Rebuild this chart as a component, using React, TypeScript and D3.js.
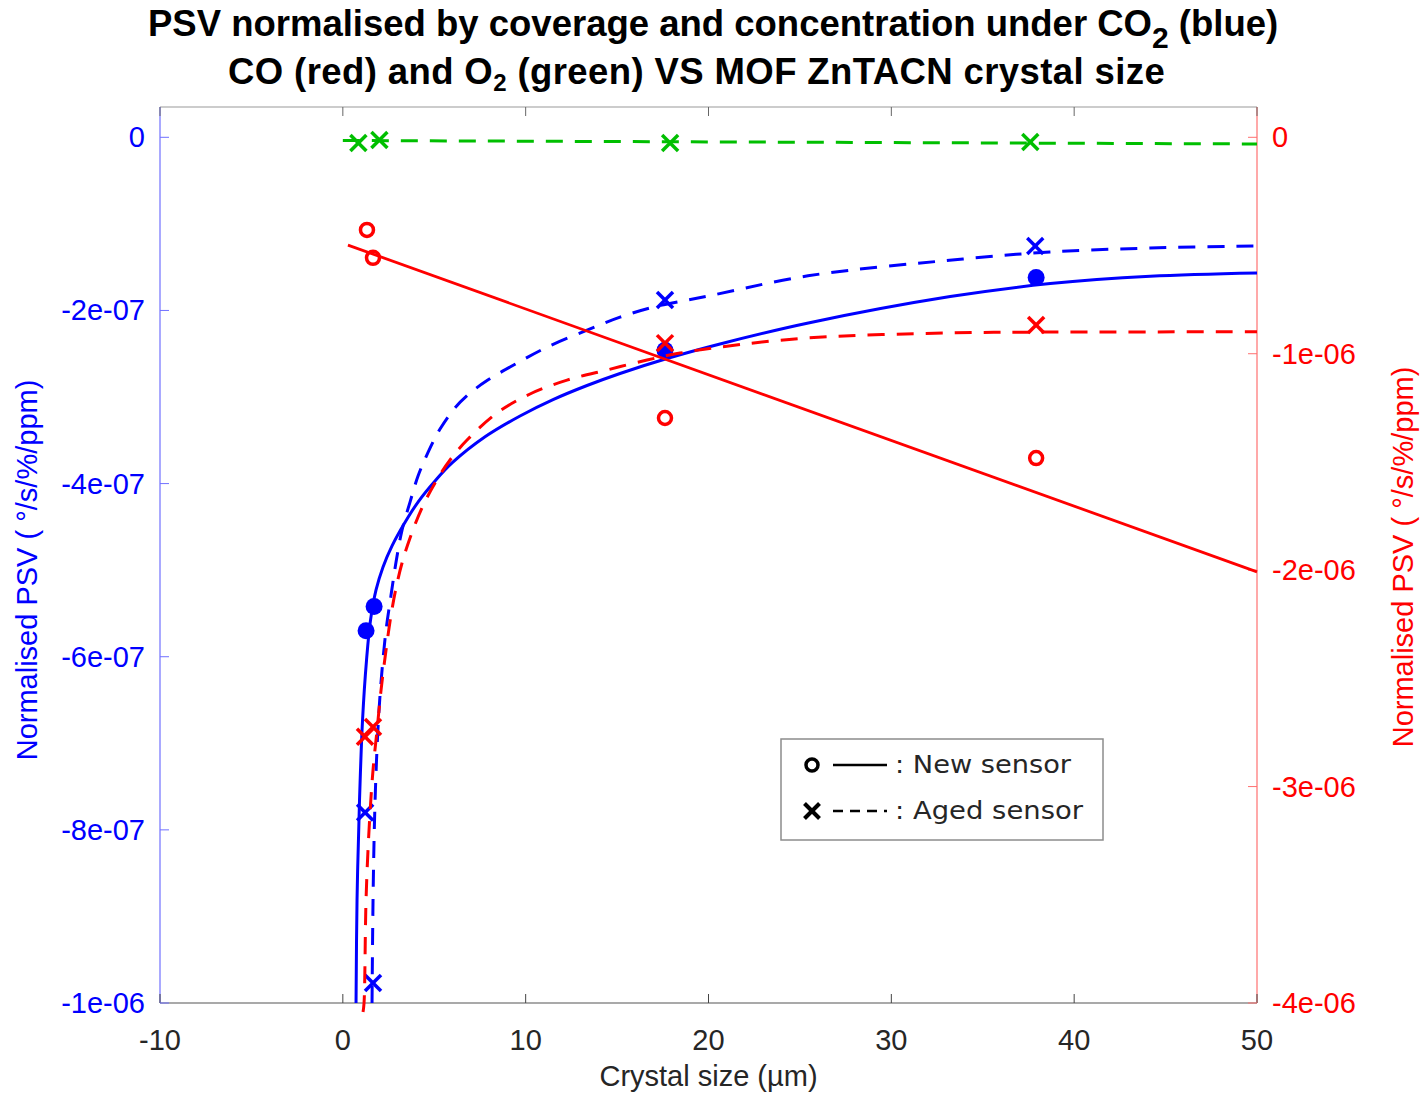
import React from "react";
import * as d3 from "d3";

// ---------- data ----------
const xTicks = [-10, 0, 10, 20, 30, 40, 50];
const xTickLabels = ["-10", "0", "10", "20", "30", "40", "50"];
const leftTicks = [0, -2e-7, -4e-7, -6e-7, -8e-7, -1e-6];
const leftTickLabels = ["0", "-2e-07", "-4e-07", "-6e-07", "-8e-07", "-1e-06"];
const rightTicks = [0, -1e-6, -2e-6, -3e-6, -4e-6];
const rightTickLabels = ["0", "-1e-06", "-2e-06", "-3e-06", "-4e-06"];

// CO2 (left axis)
const co2NewX = [1.27, 1.71, 17.62, 37.92];
const co2NewY = [-5.70e-7, -5.42e-7, -2.46e-7, -1.62e-7];
const co2AgedX = [1.22, 1.65, 17.62, 37.87];
const co2AgedY = [-7.80e-7, -9.77e-7, -1.88e-7, -1.255e-7];

const co2NewFitX = [0.722, 0.777, 0.913, 1.078, 1.296, 1.515, 1.816, 2.199, 2.691, 3.347, 4.113, 5.043, 5.973, 7.778, 9.692, 11.497, 13.356, 15.161, 17.732, 20.631, 25.46, 33.22, 38.69, 44.16, 50];
const co2NewFitY = [-10.0, -8.81, -7.655, -6.731, -6.038, -5.576, -5.229, -4.963, -4.72, -4.467, -4.213, -3.97, -3.762, -3.46, -3.219, -3.03, -2.867, -2.728, -2.555, -2.387, -2.145, -1.84, -1.69, -1.605, -1.567].map((v) => v * 1e-7);

const co2AgedFitX = [1.597, 1.652, 1.734, 1.843, 1.98, 2.144, 2.363, 2.637, 2.91, 3.238, 3.675, 4.113, 4.66, 5.316, 6.137, 6.957, 7.887, 9.528, 11.169, 13.356, 15.161, 16.966, 18.826, 20.248, 25.44, 33.92, 38.68, 44.15, 50];
const co2AgedFitY = [-10.0, -8.81, -7.886, -7.193, -6.616, -6.154, -5.692, -5.288, -4.907, -4.537, -4.214, -3.913, -3.64, -3.37, -3.125, -2.955, -2.81, -2.609, -2.424, -2.228, -2.078, -1.962, -1.881, -1.822, -1.6, -1.406, -1.325, -1.279, -1.256].map((v) => v * 1e-7);

// O2 (left axis)
const o2AgedX = [0.85, 2.0, 17.9, 37.6];
const o2AgedY = [-0.066e-7, -0.03e-7, -0.066e-7, -0.054e-7];
const o2AgedFitX = [0, 50];
const o2AgedFitY = [-0.037e-7, -0.077e-7];

// CO (right axis)
const coNewX = [1.32, 1.65, 17.62, 37.92];
const coNewY = [-0.428e-6, -0.557e-6, -1.297e-6, -1.482e-6];
const coAgedX = [1.21, 1.65, 17.62, 37.92];
const coAgedY = [-2.77e-6, -2.725e-6, -0.951e-6, -0.867e-6];

const coNewFitX = [0.28, 50];
const coNewFitY = [-0.498e-6, -2.008e-6];

const coAgedFitX = [1.105, 1.16, 1.269, 1.433, 1.652, 1.871, 2.09, 2.363, 2.637, 2.91, 3.238, 3.675, 4.331, 5.042, 5.863, 6.793, 8.434, 10.239, 12.262, 14.45, 16.638, 18.443, 20.631, 25.44, 33.22, 38.68, 50];
const coAgedFitY = [-4.042, -4.0, -3.524, -3.201, -2.923, -2.739, -2.554, -2.369, -2.207, -2.082, -1.967, -1.851, -1.712, -1.597, -1.491, -1.399, -1.274, -1.186, -1.122, -1.075, -1.029, -0.997, -0.969, -0.927, -0.904, -0.9, -0.899].map((v) => v * 1e-6);

// ---------- layout ----------
const W = 1422, H = 1094;
const L = 160, R = 1257, T = 107, B = 1003;
const BLUE = "#0000ff";
const RED = "#ff0000";
const GREEN = "#00bf00";
const TXT = "#262626";
const FONT = "'Liberation Sans', Arial, Helvetica, sans-serif";

const x = d3.scaleLinear().domain([-10, 50]).range([L, R]);
const yL = d3.scaleLinear().domain([-1e-6, 3.5e-8]).range([B, T]);
const yR = d3.scaleLinear().domain([-4e-6, 1.4e-7]).range([B, T]);

const zip = (xs: number[], ys: number[]) => xs.map((v, i) => [v, ys[i]] as [number, number]);

function linePath(xs: number[], ys: number[], ys2: d3.ScaleLinear<number, number>) {
  return d3
    .line<[number, number]>()
    .x((d) => x(d[0]))
    .y((d) => ys2(d[1]))
    .curve(d3.curveCatmullRom.alpha(0.5))(zip(xs, ys)) as string;
}

const Cross = ({ cx, cy, s, color, w }: { cx: number; cy: number; s: number; color: string; w: number }) => (
  <g stroke={color} strokeWidth={w} strokeLinecap="butt">
    <line x1={cx - s} y1={cy - s} x2={cx + s} y2={cy + s} />
    <line x1={cx - s} y1={cy + s} x2={cx + s} y2={cy - s} />
  </g>
);

export default function App() {
  const DASH = "17,12";
  return (
    <svg
      width={W}
      height={H}
      style={{ position: "absolute", left: 0, top: 0, background: "#fff" }}
      fontFamily={FONT}
    >
      <rect x={0} y={0} width={W} height={H} fill="#fff" />

      {/* Title */}
      <text x={148} y={36} fontSize={36.5} fontWeight="bold" fill="#000">
        PSV normalised by coverage and concentration under CO
        <tspan dy={12} fontSize={30}>2</tspan>
        <tspan dy={-12}> (blue)</tspan>
      </text>
      <text x={228} y={84} fontSize={36.5} fontWeight="bold" fill="#000" letterSpacing={0.4}>
        CO (red) and O
        <tspan dy={7} fontSize={24}>2</tspan>
        <tspan dy={-7}> (green) VS MOF ZnTACN crystal size</tspan>
      </text>

      {/* axes frame */}
      <line x1={L} y1={T} x2={R} y2={T} stroke="#999" strokeWidth={1.2} />
      <line x1={L} y1={B} x2={R} y2={B} stroke="#555" strokeWidth={1.2} />
      <line x1={L} y1={T} x2={L} y2={B} stroke="#7070ff" strokeWidth={1.2} />
      <line x1={R} y1={T} x2={R} y2={B} stroke="#ff7070" strokeWidth={1.2} />

      {/* x ticks */}
      {xTicks.map((t, i) => (
        <g key={"xt" + i}>
          <line x1={x(t)} y1={B} x2={x(t)} y2={B - 9} stroke="#444" strokeWidth={1} />
          <line x1={x(t)} y1={T} x2={x(t)} y2={T + 9} stroke="#666" strokeWidth={1} />
          <text x={x(t)} y={1050} fontSize={29} textAnchor="middle" fill={TXT}>
            {xTickLabels[i]}
          </text>
        </g>
      ))}
      <text x={(L + R) / 2} y={1086} fontSize={29} textAnchor="middle" fill={TXT}>
        Crystal size (µm)
      </text>

      {/* left ticks */}
      {leftTicks.map((t, i) => (
        <g key={"lt" + i}>
          <line x1={L} y1={yL(t)} x2={L + 9} y2={yL(t)} stroke="#7070ff" strokeWidth={1} />
          <text x={145} y={yL(t) + 10} fontSize={29} textAnchor="end" fill={BLUE}>
            {leftTickLabels[i]}
          </text>
        </g>
      ))}
      <text transform={`translate(37,570) rotate(-90)`} fontSize={29} textAnchor="middle" fill={BLUE}>
        Normalised PSV ( °/s/%/ppm)
      </text>

      {/* right ticks */}
      {rightTicks.map((t, i) => (
        <g key={"rt" + i}>
          <line x1={R} y1={yR(t)} x2={R - 9} y2={yR(t)} stroke="#ff7070" strokeWidth={1} />
          <text x={1272} y={yR(t) + 10} fontSize={29} textAnchor="start" fill={RED}>
            {rightTickLabels[i]}
          </text>
        </g>
      ))}
      <text transform={`translate(1413,557) rotate(-90)`} fontSize={29} textAnchor="middle" fill={RED}>
        Normalised PSV ( °/s/%/ppm)
      </text>

      {/* CO2 - blue */}
      <path d={linePath(co2NewFitX, co2NewFitY, yL)} fill="none" stroke={BLUE} strokeWidth={3} />
      <path d={linePath(co2AgedFitX, co2AgedFitY, yL)} fill="none" stroke={BLUE} strokeWidth={3} strokeDasharray={DASH} />
      {co2NewX.map((v, i) => (
        <circle key={"cn" + i} cx={x(v)} cy={yL(co2NewY[i])} r={8.5} fill={BLUE} />
      ))}
      {co2AgedX.map((v, i) => (
        <Cross key={"ca" + i} cx={x(v)} cy={yL(co2AgedY[i])} s={8} color={BLUE} w={3.5} />
      ))}

      {/* O2 - green */}
      <path d={linePath(o2AgedFitX, o2AgedFitY, yL)} fill="none" stroke={GREEN} strokeWidth={3} strokeDasharray={DASH} />
      {o2AgedX.map((v, i) => (
        <Cross key={"oa" + i} cx={x(v)} cy={yL(o2AgedY[i])} s={8} color={GREEN} w={3.5} />
      ))}

      {/* CO - red */}
      <path d={linePath(coNewFitX, coNewFitY, yR)} fill="none" stroke={RED} strokeWidth={2.8} />
      <path d={linePath(coAgedFitX, coAgedFitY, yR)} fill="none" stroke={RED} strokeWidth={3} strokeDasharray={DASH} />
      {coNewX.map((v, i) => (
        <circle key={"rn" + i} cx={x(v)} cy={yR(coNewY[i])} r={6.5} fill="none" stroke={RED} strokeWidth={3.5} />
      ))}
      {coAgedX.map((v, i) => (
        <Cross key={"ra" + i} cx={x(v)} cy={yR(coAgedY[i])} s={8} color={RED} w={3.5} />
      ))}

      {/* Legend */}
      <rect x={781} y={739} width={322} height={101} fill="#fff" stroke="#8c8c8c" strokeWidth={1.5} />
      <circle cx={812} cy={765} r={6} fill="none" stroke="#000" strokeWidth={3.5} />
      <line x1={833} y1={765} x2={887} y2={765} stroke="#000" strokeWidth={2.5} />
      <text x={895} y={773} fontSize={25} fontFamily="'DejaVu Sans', sans-serif" fill={TXT} textLength={176} lengthAdjust="spacingAndGlyphs">
        : New sensor
      </text>
      <Cross cx={812} cy={811} s={7.5} color="#000" w={4} />
      <line x1={833} y1={811} x2={887} y2={811} stroke="#000" strokeWidth={2.5} strokeDasharray="10,7" />
      <text x={895} y={819} fontSize={25} fontFamily="'DejaVu Sans', sans-serif" fill={TXT} textLength={188} lengthAdjust="spacingAndGlyphs">
        : Aged sensor
      </text>
    </svg>
  );
}
